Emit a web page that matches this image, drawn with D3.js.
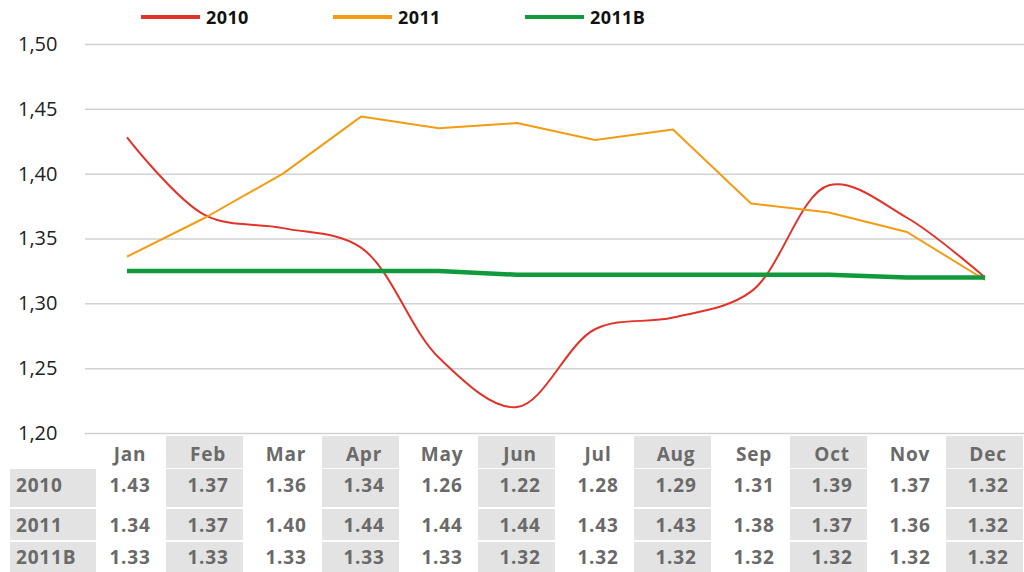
<!DOCTYPE html>
<html><head><meta charset="utf-8">
<script src="https://cdn.jsdelivr.net/npm/d3@7"></script>
<style>body{margin:0;background:#fff}svg{display:block}</style>
</head><body><svg id="c" width="1024" height="572"></svg>
<script>
const months = ["Jan","Feb","Mar","Apr","May","Jun","Jul","Aug","Sep","Oct","Nov","Dec"];
const seriesNames = ["2010","2011","2011B"];
const values2010 = [1.428,1.368,1.358,1.343,1.258,1.220,1.280,1.289,1.309,1.391,1.366,1.320];
const values2011 = [1.336,1.366,1.400,1.444,1.435,1.439,1.426,1.434,1.377,1.370,1.355,1.318];
const values2011B = [1.325,1.325,1.325,1.325,1.325,1.322,1.322,1.322,1.322,1.322,1.320,1.320];
const table2010 = ["1.43","1.37","1.36","1.34","1.26","1.22","1.28","1.29","1.31","1.39","1.37","1.32"];
const table2011 = ["1.34","1.37","1.40","1.44","1.44","1.44","1.43","1.43","1.38","1.37","1.36","1.32"];
const table2011B = ["1.33","1.33","1.33","1.33","1.33","1.32","1.32","1.32","1.32","1.32","1.32","1.32"];
const yTicks = [1.20,1.25,1.30,1.35,1.40,1.45,1.50];

const colors = ["#e2332a","#f39c12","#109a3c"];
const widths = [2,2,4.5];
const curves = [d3.curveCatmullRom, d3.curveLinear, d3.curveLinear];
const seriesValues = [values2010, values2011, values2011B];
const tableValues = [table2010, table2011, table2011B];

const svg = d3.select("#c");
const x = d3.scaleBand().domain(months).range([88,1024]);
const y = d3.scaleLinear().domain([1.20,1.50]).range([433,44]);
const cx = m => x(m) + x.bandwidth()/2;

const loc = d3.formatLocale({decimal:",",thousands:".",grouping:[3],currency:["",""]});
const fmt = loc.format(".2f");

// gridlines + y axis
const yAxis = d3.axisLeft(y).tickValues(yTicks).tickSize(-(1024-85)).tickFormat(fmt);
const ga = svg.append("g").attr("transform","translate(85,0)").call(yAxis);
ga.select(".domain").remove();
ga.selectAll(".tick line").attr("stroke","#d2d2d2").attr("stroke-width",1.5);
ga.selectAll(".tick text").attr("x",-67).attr("text-anchor","start")
  .attr("font-family","'Open Sans', sans-serif").attr("font-size",20).attr("fill","#222");

// lines
seriesValues.forEach((vals,i)=>{
  const line = d3.line().x((d,j)=>cx(months[j])).y(d=>y(d)).curve(curves[i]);
  svg.append("path").datum(vals).attr("d",line).attr("fill","none")
    .attr("stroke",colors[i]).attr("stroke-width",widths[i]).attr("stroke-linejoin","round");
});

// legend
const legX = [141,333,525];
const lg = svg.append("g").selectAll("g").data(seriesNames).join("g")
  .attr("transform",(d,i)=>`translate(${legX[i]},17)`);
lg.append("line").attr("x1",0).attr("x2",59).attr("stroke",(d,i)=>colors[i]).attr("stroke-width",4);
lg.append("text").attr("x",65).attr("y",7).text(d=>d).attr("letter-spacing",0.4)
  .attr("font-family","'Open Sans', sans-serif").attr("font-weight",700).attr("font-size",18).attr("fill","#111");

// table
const shade = "#e3e3e3", txt = "#6a6a6a";
const rowsY = [[436,468],[469,507],[509,540],[542,572]];
const textY = [461,492,532,564];
const tg = svg.append("g").attr("font-family","'Open Sans', sans-serif").attr("font-weight",700)
  .attr("font-size",19).attr("letter-spacing",0.8);
// cells
rowsY.forEach((r,ri)=>{
  tg.selectAll(null).data(months).join("rect")
    .attr("x",m=>x(m)).attr("y",r[0]).attr("width",x.bandwidth()-1).attr("height",r[1]-r[0])
    .attr("fill",(m,j)=> j%2===1 ? shade : "#fff");
  if(ri>0){
    tg.append("rect").attr("x",10).attr("y",r[0]).attr("width",86).attr("height",r[1]-r[0]).attr("fill",shade);
    tg.append("text").attr("x",16).attr("y",textY[ri]).attr("fill",txt).text(seriesNames[ri-1]);
  }
});
tg.selectAll(null).data(months).join("text")
  .attr("x",m=>cx(m)+3).attr("y",textY[0]).attr("text-anchor","middle").attr("fill",txt).text(d=>d);
tableValues.forEach((vals,i)=>{
  tg.selectAll(null).data(vals).join("text")
    .attr("x",(d,j)=>cx(months[j])+3).attr("y",textY[i+1]).attr("text-anchor","middle").attr("fill",txt).text(d=>d);
});
</script></body></html>
